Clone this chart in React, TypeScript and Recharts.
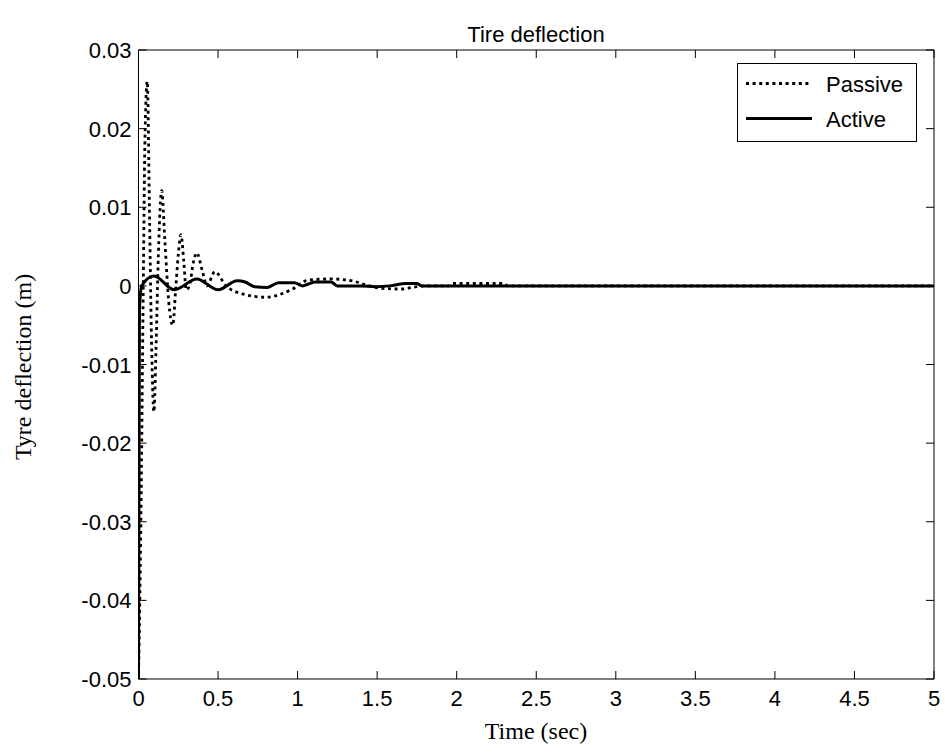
import React from "react";
import { LineChart, Line, XAxis, YAxis } from "recharts";

const passiveT = [0, 0.015, 0.03, 0.04, 0.055, 0.07, 0.08, 0.097, 0.11, 0.125, 0.146, 0.165, 0.19, 0.215, 0.235, 0.25, 0.267, 0.285, 0.3, 0.32, 0.345, 0.366, 0.4, 0.43, 0.48, 0.55, 0.65, 0.8, 0.96, 1.07, 1.21, 1.35, 1.45, 1.52, 1.65, 1.75, 1.8, 1.95, 1.97, 2.3, 2.32, 5];
const passiveV = [-0.05, -0.03, 0.0, 0.018, 0.026, 0.008, -0.005, -0.016, -0.008, 0.004, 0.0121, 0.006, -0.002, -0.005, 0.0, 0.004, 0.0065, 0.003, -0.0005, 0.0, 0.003, 0.0042, 0.002, 0.0, 0.0018, 0.0, -0.001, -0.00145, -0.0005, 0.00075, 0.00088, 0.0006, 0.0, -0.0003, -0.0004, -0.0001, 0, 0, 0.0003, 0.0003, 0, 0];

const activeT = [0, 0.006, 0.02, 0.097, 0.225, 0.366, 0.5, 0.62, 0.67, 0.73, 0.81, 0.88, 0.98, 1.03, 1.11, 1.21, 1.25, 1.4, 1.49, 1.58, 1.68, 1.75, 1.78, 5];
const activeV = [-0.05, -0.003, 0.0, 0.00126, -0.0005, 0.00088, -0.0005, 0.00066, 0.0005, -0.0001, -0.0002, 0.0004, 0.0004, 0, 0.0005, 0.0005, 0, 0, -0.0001, 0, 0.0003, 0.0003, 0, 0];

const xTicks = [0, 0.5, 1, 1.5, 2, 2.5, 3, 3.5, 4, 4.5, 5];
const yTicks = [-0.05, -0.04, -0.03, -0.02, -0.01, 0, 0.01, 0.02, 0.03];
const xLabels = ["0", "0.5", "1", "1.5", "2", "2.5", "3", "3.5", "4", "4.5", "5"];
const yLabels = ["-0.05", "-0.04", "-0.03", "-0.02", "-0.01", "0", "0.01", "0.02", "0.03"];
const seriesNames = ["Passive", "Active"];

const passiveData = passiveT.map((t, i) => ({ t, v: passiveV[i] }));
const activeData = activeT.map((t, i) => ({ t, v: activeV[i] }));

const SANS = "'Liberation Sans', Arial, sans-serif";
const SERIF = "'Liberation Serif', 'DejaVu Serif', serif";
const FS = 22;
const TICK = 8;

const BottomTick = (p: any) => {
  const i = xTicks.indexOf(p.payload.value);
  return (
    <g>
      <line x1={p.x} x2={p.x} y1={p.y} y2={p.y - TICK} stroke="#000" strokeWidth={1} />
      <text x={p.x} y={p.y + 27} textAnchor="middle" fontFamily={SANS} fontSize={FS} fill="#000">
        {i >= 0 ? xLabels[i] : p.payload.value}
      </text>
    </g>
  );
};
const TopTick = (p: any) => (
  <line x1={p.x} x2={p.x} y1={p.y} y2={p.y + TICK} stroke="#000" strokeWidth={1} />
);
const LeftTick = (p: any) => {
  const i = yTicks.findIndex((v) => Math.abs(v - p.payload.value) < 1e-9);
  return (
    <g>
      <line x1={p.x} x2={p.x + TICK} y1={p.y} y2={p.y} stroke="#000" strokeWidth={1} />
      <text x={p.x - 7} y={p.y + 8} textAnchor="end" fontFamily={SANS} fontSize={FS} fill="#000">
        {i >= 0 ? yLabels[i] : p.payload.value}
      </text>
    </g>
  );
};
const RightTick = (p: any) => (
  <line x1={p.x} x2={p.x - TICK} y1={p.y} y2={p.y} stroke="#000" strokeWidth={1} />
);

export default function App() {
  return (
    <div style={{ position: "absolute", left: 0, top: 0, width: 945, height: 753, background: "#fff" }}>
      <LineChart width={945} height={753} margin={{ top: 49, right: 10, left: 0, bottom: 0 }}>
        <XAxis
          xAxisId="b"
          type="number"
          dataKey="t"
          domain={[0, 5]}
          ticks={xTicks}
          orientation="bottom"
          height={74}
          tickSize={0}
          tickMargin={0}
          tick={BottomTick}
          axisLine={{ stroke: "#000", strokeWidth: 1 }}
          tickLine={false}
          allowDataOverflow
        />
        <XAxis
          xAxisId="top"
          type="number"
          dataKey="t"
          domain={[0, 5]}
          ticks={xTicks}
          orientation="top"
          height={1}
          tickSize={0}
          tickMargin={0}
          tick={TopTick}
          axisLine={{ stroke: "#000", strokeWidth: 1 }}
          tickLine={false}
          allowDataOverflow
        />
        <YAxis
          yAxisId="l"
          type="number"
          domain={[-0.05, 0.03]}
          ticks={yTicks}
          orientation="left"
          width={138.5}
          tickSize={0}
          tickMargin={0}
          tick={LeftTick}
          axisLine={{ stroke: "#000", strokeWidth: 1 }}
          tickLine={false}
          allowDataOverflow
        />
        <YAxis
          yAxisId="r"
          type="number"
          domain={[-0.05, 0.03]}
          ticks={yTicks}
          orientation="right"
          width={1}
          tickSize={0}
          tickMargin={0}
          tick={RightTick}
          axisLine={{ stroke: "#000", strokeWidth: 1 }}
          tickLine={false}
          allowDataOverflow
        />
        <Line
          xAxisId="b"
          yAxisId="l"
          data={passiveData}
          dataKey="v"
          name="Passive"
          type="monotone"
          stroke="#000"
          strokeWidth={2.8}
          strokeDasharray="3 3.6"
          dot={false}
          activeDot={false}
          isAnimationActive={false}
        />
        <Line
          xAxisId="b"
          yAxisId="l"
          data={activeData}
          dataKey="v"
          name="Active"
          type="monotone"
          stroke="#000"
          strokeWidth={3}
          dot={false}
          activeDot={false}
          isAnimationActive={false}
        />
      </LineChart>
      <svg width={945} height={753} style={{ position: "absolute", left: 0, top: 0, pointerEvents: "none" }}>
        <text x={536} y={42} textAnchor="middle" fontFamily={SANS} fontSize={FS} fill="#000">Tire deflection</text>
        <text x={536} y={739} textAnchor="middle" fontFamily={SERIF} fontSize={24} fill="#000">Time (sec)</text>
        <text x={31} y={367} textAnchor="middle" fontFamily={SERIF} fontSize={24} fill="#000" transform="rotate(-90 31 367)">Tyre deflection (m)</text>
        <g transform="translate(737 63)">
          <rect x={0.5} y={0.5} width={179} height={78} fill="#fff" stroke="#000" strokeWidth={1} />
          <line x1={9} x2={75} y1={20.5} y2={20.5} stroke="#000" strokeWidth={2.8} strokeDasharray="3 3.6" />
          <text x={89} y={28.5} fontFamily={SANS} fontSize={FS} fill="#000">{seriesNames[0]}</text>
          <line x1={9} x2={75} y1={55.5} y2={55.5} stroke="#000" strokeWidth={3} />
          <text x={89} y={63.5} fontFamily={SANS} fontSize={FS} fill="#000">{seriesNames[1]}</text>
        </g>
      </svg>
    </div>
  );
}
